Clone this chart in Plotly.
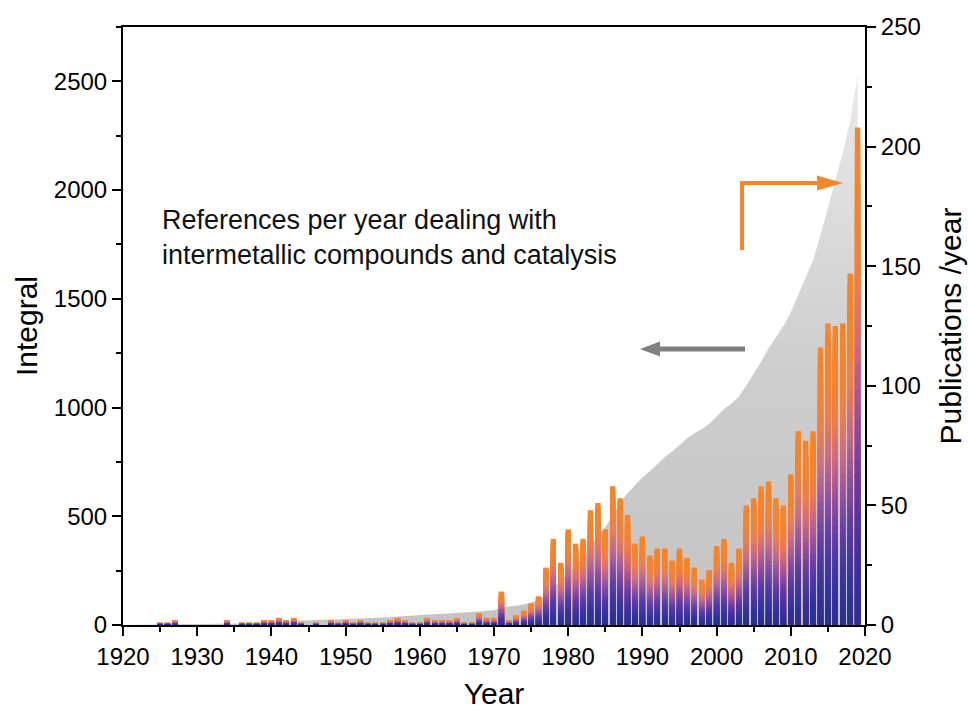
import plotly.graph_objects as go
from plotly.colors import sample_colorscale

# ---------------- data ----------------
years = list(range(1920, 2020))
pubs = [0, 0, 0, 0, 0, 1, 1, 2, 0, 0,
        0, 0, 0, 0, 2, 0, 1, 1, 1, 2,
        2, 3, 2, 3, 1, 0, 1, 0, 2, 1,
        2, 1, 2, 1, 1, 1, 2, 3, 2, 1,
        1, 3, 2, 2, 2, 3, 1, 1, 5, 3,
        3, 14, 2, 4, 6, 9, 12, 24, 36, 26,
        40, 34, 36, 48, 51, 40, 58, 53, 46, 34,
        37, 29, 32, 32, 27, 32, 28, 24, 19, 23,
        33, 36, 26, 32, 50, 53, 58, 60, 53, 50,
        63, 81, 77, 81, 116, 126, 125, 126, 147, 208]
integral = [0, 0, 0, 0, 0, 1, 2, 4, 4, 4,
            4, 4, 4, 4, 6, 6, 7, 8, 9, 11,
            13, 16, 18, 21, 22, 22, 23, 23, 25, 26,
            28, 29, 31, 32, 33, 34, 36, 39, 41, 42,
            43, 46, 48, 50, 52, 55, 56, 57, 62, 65,
            68, 82, 84, 88, 94, 103, 115, 139, 175, 201,
            241, 275, 311, 359, 410, 450, 508, 561, 607, 641,
            678, 707, 739, 771, 798, 830, 858, 882, 901, 924,
            957, 993, 1019, 1051, 1101, 1154, 1212, 1272, 1325, 1375,
            1438, 1519, 1596, 1677, 1793, 1919, 2044, 2170, 2317, 2530]

note_text = "References per year dealing with<br>intermetallic compounds and catalysis"

# ---------------- styling ----------------
FONT = "Arial, Liberation Sans, sans-serif"
ORANGE = "#f3862f"
GREY_ARROW = "#808080"
bar_scale = [[0.0, "#2a2e8e"], [0.12, "#3333a0"], [0.28, "#5b3aa8"],
             [0.42, "#9150a0"], [0.55, "#c9688a"], [0.68, "#ed7c50"],
             [0.8, "#f5842e"], [1.0, "#f68428"]]

W, H = 968, 712
L, R, T, B = 123, 103, 27, 87
PW, PH = W - L - R, H - T - B

fig = go.Figure()

# integral (grey area, left axis)
fig.add_trace(go.Scatter(
    x=years, y=integral, mode="lines", line=dict(width=0),
    fill="tozeroy",
    fillgradient=dict(type="vertical",
                      colorscale=[[0, "#c4c4c4"], [0.45, "#cdcdcd"], [1, "#e9e9e9"]],
                      start=0, stop=2530),
    yaxis="y", hoverinfo="skip", showlegend=False))

# publications per year: gradient bars via overlaid, progressively shorter bars
N = 36
for k in range(N):
    frac = (N - k) / N
    col = sample_colorscale(bar_scale, [max(frac - 0.5 / N, 0)])[0]
    fig.add_trace(go.Bar(
        x=years, y=[(v * frac if v > 0 else None) for v in pubs],
        width=0.72, marker=dict(color=col, line=dict(width=0)),
        yaxis="y2", hoverinfo="skip", showlegend=False))


def px(x):
    return (x - L) / PW


def py(y):
    return (H - B - y) / PH


shapes = []
# orange L-shaped arrow
shapes.append(dict(type="line", xref="paper", yref="paper", x0=px(742), x1=px(742),
                   y0=py(250), y1=py(181), line=dict(color=ORANGE, width=4)))
shapes.append(dict(type="line", xref="paper", yref="paper", x0=px(740), x1=px(822),
                   y0=py(183), y1=py(183), line=dict(color=ORANGE, width=4)))
shapes.append(dict(type="path", xref="paper", yref="paper",
                   path=f"M{px(843)},{py(183)} L{px(817)},{py(175.5)} L{px(817)},{py(190.5)} Z",
                   fillcolor=ORANGE, line=dict(width=0)))
# grey arrow
shapes.append(dict(type="line", xref="paper", yref="paper", x0=px(656), x1=px(745),
                   y0=py(349), y1=py(349), line=dict(color=GREY_ARROW, width=5)))
shapes.append(dict(type="path", xref="paper", yref="paper",
                   path=f"M{px(640)},{py(349)} L{px(660)},{py(341.5)} L{px(660)},{py(356.5)} Z",
                   fillcolor=GREY_ARROW, line=dict(width=0)))

axis_common = dict(showline=True, linewidth=2, linecolor="black", ticks="outside",
                   ticklen=9, tickwidth=2, tickcolor="black", showgrid=False,
                   zeroline=False, automargin=False,
                   tickfont=dict(size=24, family=FONT, color="black"))

fig.update_layout(
    width=W, height=H, margin=dict(l=L, r=R, t=T, b=B),
    plot_bgcolor="white", paper_bgcolor="white",
    barmode="overlay", showlegend=False,
    font=dict(family=FONT, color="black"),
    xaxis=dict(range=[1920, 2020], tickmode="linear", tick0=1920, dtick=10,
               mirror=True,
               minor=dict(tick0=1920, dtick=5, ticks="outside", ticklen=5,
                          tickwidth=2, tickcolor="black", showgrid=False),
               title=dict(text="Year", font=dict(size=30, family=FONT), standoff=14),
               **axis_common),
    yaxis=dict(range=[0, 2750], tickmode="linear", tick0=0, dtick=500,
               minor=dict(tick0=0, dtick=250, ticks="outside", ticklen=5,
                          tickwidth=2, tickcolor="black", showgrid=False),
               title=dict(text="Integral", font=dict(size=30, family=FONT), standoff=7),
               **axis_common),
    yaxis2=dict(range=[0, 250], overlaying="y", side="right", tickmode="linear",
                tick0=0, dtick=50,
                minor=dict(tick0=0, dtick=25, ticks="outside", ticklen=5,
                           tickwidth=2, tickcolor="black", showgrid=False),
                title=dict(text="Publications /year", font=dict(size=30, family=FONT),
                           standoff=20),
                **axis_common),
    shapes=shapes,
    annotations=[dict(text=note_text, xref="paper", yref="paper",
                      x=px(160), y=py(237), xanchor="left", yanchor="middle",
                      align="left", showarrow=False,
                      font=dict(size=27, family=FONT, color="#111111"))],
)

fig.write_html("out.html")
